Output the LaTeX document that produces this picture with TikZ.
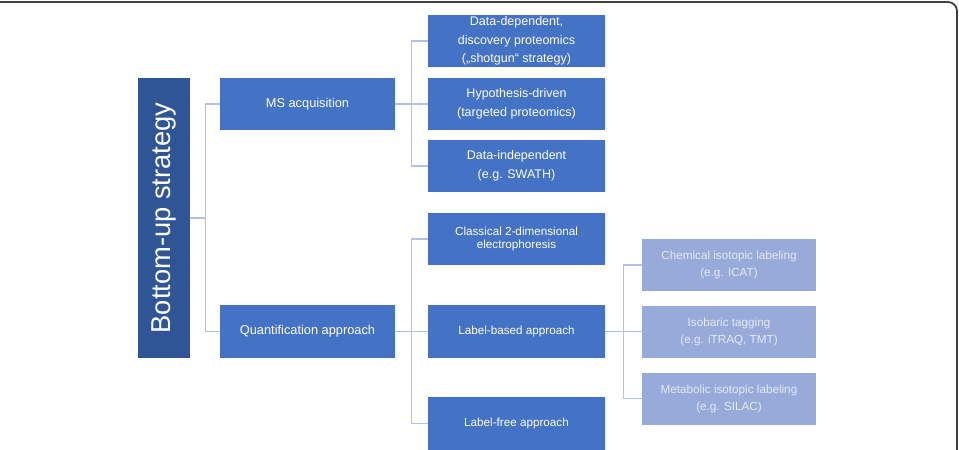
\documentclass[tikz,border=0pt]{standalone}
\usepackage{fontspec}
\setmainfont{Liberation Sans}
\usepackage{graphicx}
\definecolor{rootblue}{HTML}{2F5597}
\definecolor{boxblue}{HTML}{4472C4}
\definecolor{paleblue}{HTML}{98AADA}
\definecolor{linkblue}{HTML}{B4C1E3}
\definecolor{palefont}{HTML}{E6EAF6}
\tikzset{
  rootbox/.style={fill=rootblue, text=white, inner sep=0pt, minimum width=52pt, minimum height=280pt, font=\fontsize{27.3}{30}\selectfont},
  mainbox/.style={fill=boxblue, text=white, inner sep=0pt, minimum width=175pt, minimum height=52pt, align=center, font=\fontsize{12.8}{16}\selectfont},
  subbox/.style={fill=boxblue, text=white, inner sep=0pt, minimum width=177pt, minimum height=52pt, align=center, font=\fontsize{12.5}{18.5}\selectfont},
  smallbox/.style={subbox, font=\fontsize{11.7}{13}\selectfont},
  palebox/.style={fill=paleblue, text=palefont, inner sep=0pt, minimum width=174pt, minimum height=52pt, align=center, font=\fontsize{11.7}{17}\selectfont},
  link/.style={draw=linkblue, line width=1.3pt}
}
\begin{document}
\begin{tikzpicture}[x=1pt, y=-1pt]
\useasboundingbox (0,0) rectangle (959,450);
\draw[line width=1.8pt, draw=black!75, rounded corners=9pt] (-30,2) rectangle (957,480);

\node[rootbox] (root) at (164,218) {\rotatebox{90}{Bottom-up strategy}};

\node[mainbox] (ms) at (307.5,104) {MS acquisition};
\node[mainbox, minimum height=53pt] (quant) at (307.5,331.5) {Quantification approach};

\node[subbox] (dd) at (516.5,41) {Data-dependent,\\discovery proteomics\\(„shotgun“ strategy)};
\node[subbox] (hd) at (516.5,104) {Hypothesis-driven\\(targeted proteomics)};
\node[subbox] (di) at (516.5,166) {Data-independent\\(e.g. SWATH)};
\node[smallbox] (clas) at (516.5,239) {Classical 2-dimensional\\electrophoresis};
\node[smallbox, minimum height=53pt] (lb) at (516.5,331.5) {Label-based approach};
\node[smallbox, minimum height=53pt] (lf) at (516.5,423.5) {Label-free approach};

\node[palebox] (chem) at (729,265) {Chemical isotopic labeling\\(e.g. ICAT)};
\node[palebox] (iso) at (729,331.5) {Isobaric tagging\\(e.g. iTRAQ, TMT)};
\node[palebox] (meta) at (729,398.5) {Metabolic isotopic labeling\\(e.g. SILAC)};

\foreach \c in {ms,quant}
  \draw[link] (root.east) -- ++(15,0) |- (\c.west);
\foreach \c in {dd,hd,di}
  \draw[link] (ms.east) -- ++(16,0) |- (\c.west);
\foreach \c in {clas,lb,lf}
  \draw[link] (quant.east) -- ++(16,0) |- (\c.west);
\foreach \c in {chem,iso,meta}
  \draw[link] (lb.east) -- ++(18,0) |- (\c.west);

\end{tikzpicture}
\end{document}
